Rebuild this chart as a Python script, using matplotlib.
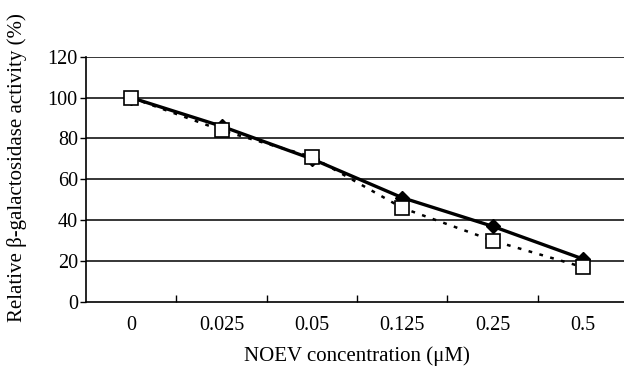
import matplotlib.pyplot as plt
import numpy as np

plt.rcParams['font.family'] = ['Liberation Serif', 'DejaVu Serif']

categories = ["0", "0.025", "0.05", "0.125", "0.25", "0.5"]
solid_vals = [100, 86, 70, 51, 37, 21]
open_vals = [100, 84, 71, 46, 30, 17]

x = np.arange(len(categories))

fig = plt.figure(figsize=(6.24, 3.69), dpi=100)
ax = fig.add_axes([0.138, 0.182, 0.8686, 0.664])

for v in range(20, 121, 20):
    ax.axhline(v, color='black', lw=1.1, zorder=1)

ax.plot(x, solid_vals, color='black', lw=2.4, marker='D', markersize=7.5,
        markerfacecolor='black', zorder=3)
ax.plot(x, open_vals, color='black', lw=1.8, linestyle=(0, (1.5, 3)),
        marker='s', markersize=10, markerfacecolor='white',
        markeredgecolor='black', markeredgewidth=1.2, zorder=4)

ax.set_xlim(-0.5, len(categories) - 0.5)
ax.set_ylim(0, 120)
ax.set_yticks(range(0, 121, 20))
ax.set_xticks(x)
ax.set_xticklabels(categories)
ax.set_xticks(x[:-1] + 0.5, minor=True)
ax.tick_params(axis='x', which='major', length=0, labelsize=14.5, pad=10)
ax.tick_params(axis='x', which='minor', direction='in', length=5, width=1)
ax.tick_params(axis='y', direction='out', length=4, width=1, labelsize=14.5, pad=2)

for s in ['top', 'right']:
    ax.spines[s].set_visible(False)
ax.spines['left'].set_linewidth(1.2)
ax.spines['bottom'].set_linewidth(1.2)

ax.set_xlabel("NOEV concentration (μM)", fontsize=15)
ax.set_ylabel("Relative β-galactosidase activity (%)", fontsize=15)
ax.xaxis.set_label_coords(0.5, -0.183)
ax.yaxis.set_label_coords(-0.109, 0.549)

fig.savefig("out.png", dpi=100)
